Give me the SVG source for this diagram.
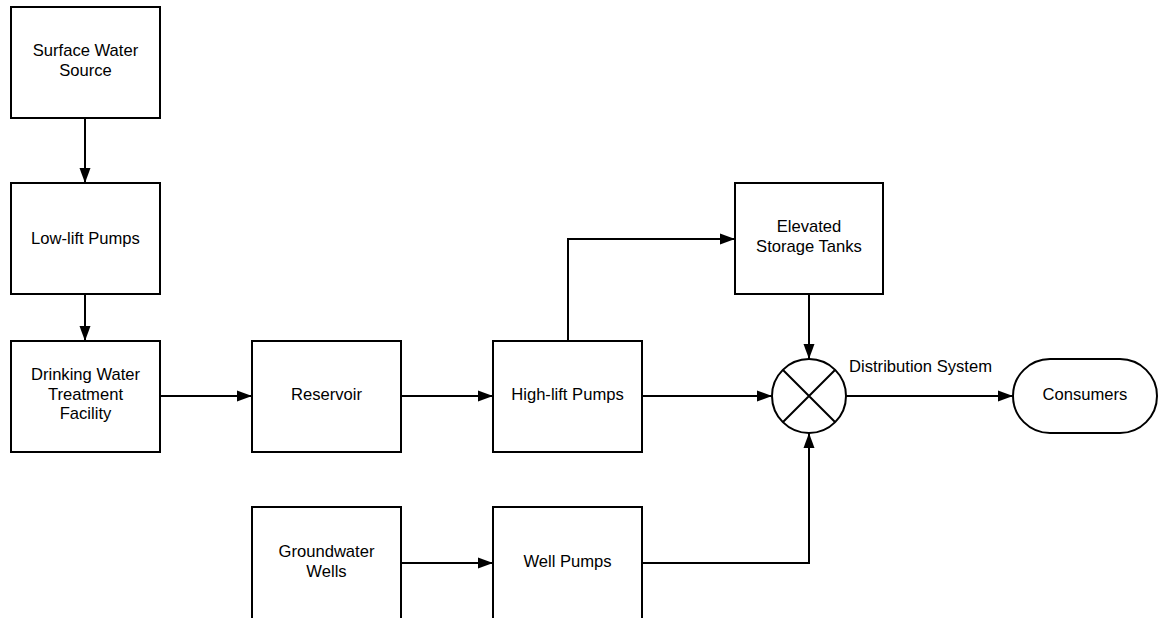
<svg xmlns="http://www.w3.org/2000/svg" width="1158" height="618" viewBox="0 0 1158 618">
<defs>
<style>
.box{fill:#fff;stroke:#000;stroke-width:2}
.ln{fill:none;stroke:#000;stroke-width:2;marker-end:url(#ah)}
text{font-family:"Liberation Sans",Arial,sans-serif;font-size:16.6px;fill:#000;text-anchor:middle}
</style>
<marker id="ah" markerUnits="userSpaceOnUse" markerWidth="16" markerHeight="12" refX="15" refY="6" orient="auto" viewBox="0 0 16 12">
<path d="M0,0.5 L15,6 L0,11.5 z" fill="#000"/>
</marker>
</defs>
<rect width="1158" height="618" fill="#fff"/>
<g id="connectors">
<path class="ln" d="M85,118 V183"/>
<path class="ln" d="M85,294 V341"/>
<path class="ln" d="M160,396 H252"/>
<path class="ln" d="M401,396 H493"/>
<path class="ln" d="M568,341 V239 H735"/>
<path class="ln" d="M642,396 H772"/>
<path class="ln" d="M809,294 V359"/>
<path class="ln" d="M846,396 H1013"/>
<path class="ln" d="M401,563 H493"/>
<path class="ln" d="M642,563 H809 V433"/>
</g>
<g id="surface">
<rect class="box" x="11" y="7" width="149" height="111"/>
<text x="85.5" y="56">Surface Water</text>
<text x="85.5" y="76">Source</text>
</g>
<g id="lowlift">
<rect class="box" x="11" y="183" width="149" height="111"/>
<text x="85.5" y="244">Low-lift Pumps</text>
</g>
<g id="treatment">
<rect class="box" x="11" y="341" width="149" height="111"/>
<text x="85.5" y="380">Drinking Water</text>
<text x="85.5" y="400">Treatment</text>
<text x="85.5" y="419">Facility</text>
</g>
<g id="reservoir">
<rect class="box" x="252" y="341" width="149" height="111"/>
<text x="326.5" y="400">Reservoir</text>
</g>
<g id="highlift">
<rect class="box" x="493" y="341" width="149" height="111"/>
<text x="567.5" y="400">High-lift Pumps</text>
</g>
<g id="elevated">
<rect class="box" x="735" y="183" width="148" height="111"/>
<text x="809" y="232">Elevated</text>
<text x="809" y="252">Storage Tanks</text>
</g>
<g id="junction">
<circle cx="809" cy="396" r="37" fill="#fff" stroke="#000" stroke-width="2"/>
<path d="M783,370 L835,422 M835,370 L783,422" stroke="#000" stroke-width="2"/>
<text x="920.5" y="372">Distribution System</text>
</g>
<g id="consumers">
<rect class="box" x="1013" y="359" width="144" height="74" rx="37" ry="37"/>
<text x="1085" y="400">Consumers</text>
</g>
<g id="groundwater">
<rect class="box" x="252" y="507" width="149" height="114"/>
<text x="326.5" y="557">Groundwater</text>
<text x="326.5" y="577">Wells</text>
</g>
<g id="wellpumps">
<rect class="box" x="493" y="507" width="149" height="114"/>
<text x="567.5" y="567">Well Pumps</text>
</g>
</svg>
